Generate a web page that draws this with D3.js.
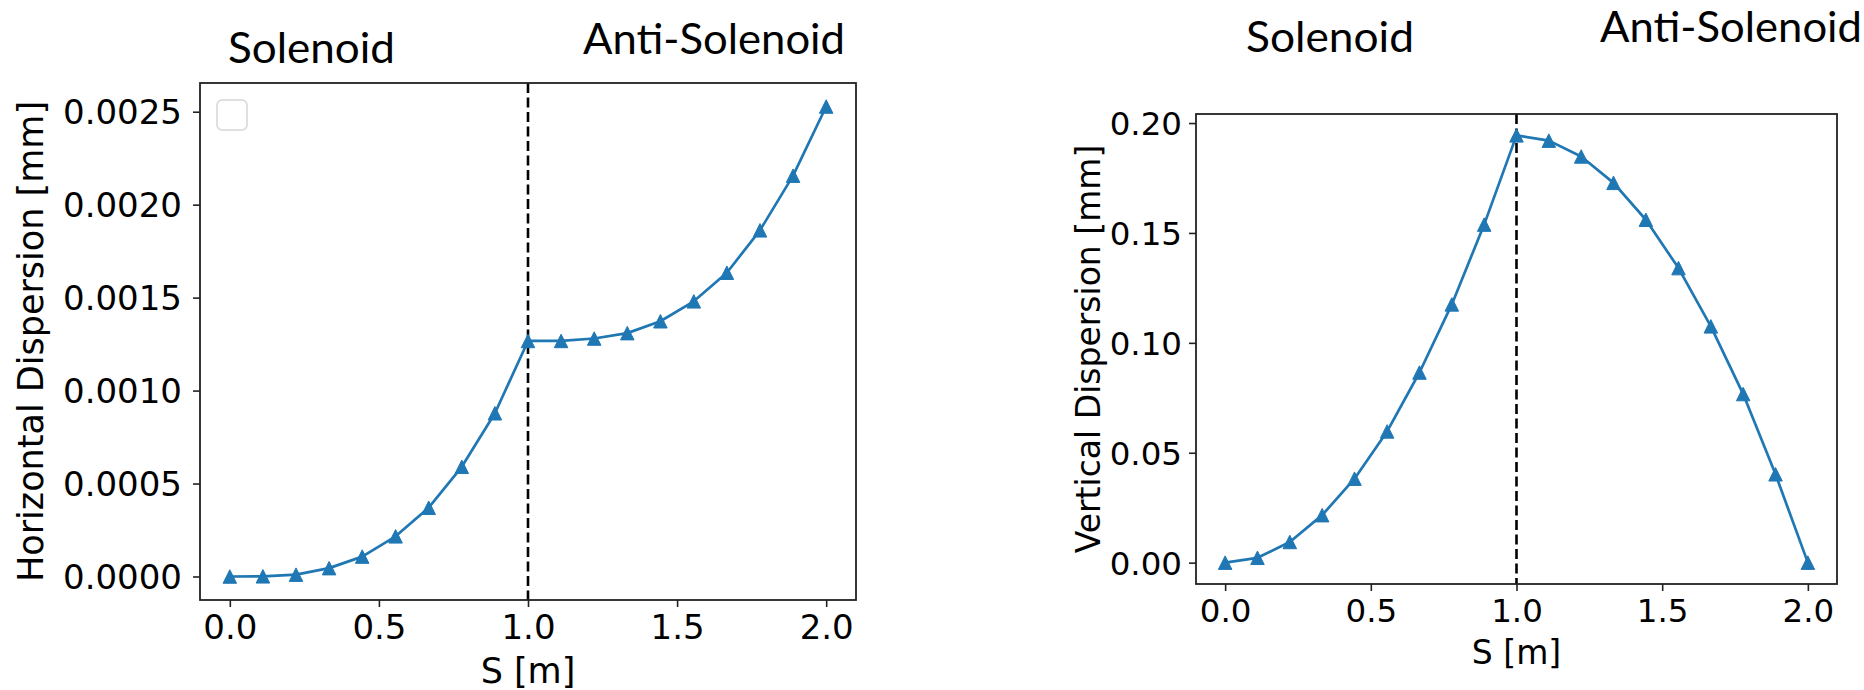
<!DOCTYPE html>
<html>
<head>
<meta charset="utf-8">
<script src="https://cdn.jsdelivr.net/npm/d3@7"></script>
<style>
  html, body { margin: 0; padding: 0; background: #fff; }
  svg { display: block; }
</style>
</head>
<body>
<svg id="chart" width="1864" height="690"></svg>
<script>
// ---------------- DATA ----------------
const sPositions = [0.0, 0.111, 0.222, 0.333, 0.444, 0.556, 0.667, 0.778, 0.889, 1.0,
                    1.111, 1.222, 1.333, 1.444, 1.556, 1.667, 1.778, 1.889, 2.0];
const horizontalDispersion = [0.0, 0.000001, 0.00001, 0.000045, 0.000107, 0.000216, 0.00037, 0.00059, 0.000878, 0.001267,
                              0.001267, 0.00128, 0.001309, 0.001373, 0.00148, 0.001634, 0.001862, 0.002156, 0.002528];
const verticalDispersion = [0.0, 0.0022, 0.0094, 0.0216, 0.0382, 0.0597, 0.0865, 0.1175, 0.1538, 0.1944,
                            0.192, 0.1848, 0.1728, 0.156, 0.134, 0.1075, 0.0767, 0.0402, 0.0];
const xTickValues = [0.0, 0.5, 1.0, 1.5, 2.0];
const horizontalTicks = [0.0, 0.0005, 0.0010, 0.0015, 0.0020, 0.0025];
const verticalTicks = [0.00, 0.05, 0.10, 0.15, 0.20];
const regionLabels = ["Solenoid", "Anti-Solenoid"];
const boundaryS = [1.0];
const xLabel = "S [m]";
const yLabels = ["Horizontal Dispersion [mm]", "Vertical Dispersion [mm]"];

// ---------------- LAYOUT ----------------
const svg = d3.select("#chart");
const C0 = "#1f77b4";

const panels = [
  { left: 200, right: 856, top: 83, bottom: 600, y: horizontalDispersion, ticks: horizontalTicks,
    fmt: d3.format(".4f"), ylabel: yLabels[0], font: 34, labFont: 35,
    ylabX: 43, tickLabGap: 18, xTickBase: 39, xLabBase: 83, legend: true,
    titles: [{ x: 228, y: 63, w: 167 }, { x: 583, y: 54, w: 262 }] },
  { left: 1196, right: 1837, top: 114, bottom: 584, y: verticalDispersion, ticks: verticalTicks,
    fmt: d3.format(".2f"), ylabel: yLabels[1], font: 32.5, labFont: 33,
    ylabX: 1100, tickLabGap: 14, xTickBase: 38, xLabBase: 80, legend: false,
    titles: [{ x: 1246, y: 52, w: 168 }, { x: 1600, y: 42, w: 262 }] }
];

const triangle = {
  draw(ctx, size) {
    const r = Math.sqrt(size) / 2;
    ctx.moveTo(0, -r);
    ctx.lineTo(r, r);
    ctx.lineTo(-r, r);
    ctx.closePath();
  }
};

function padded(ext) {
  const m = (ext[1] - ext[0]) * 0.05;
  return [ext[0] - m, ext[1] + m];
}

panels.forEach(p => {
  const g = svg.append("g");
  const x = d3.scaleLinear().domain(padded(d3.extent(sPositions))).range([p.left, p.right]);
  const y = d3.scaleLinear().domain(padded(d3.extent(p.y))).range([p.bottom, p.top]);

  // dashed boundary line
  g.selectAll("line.boundary").data(boundaryS).join("line")
    .attr("class", "boundary")
    .attr("x1", d => x(d)).attr("x2", d => x(d))
    .attr("y1", p.top).attr("y2", p.bottom)
    .attr("stroke", "#000").attr("stroke-width", 2.6)
    .attr("stroke-dasharray", "10,4.5");

  // series line
  const pts = sPositions.map((s, i) => [s, p.y[i]]);
  g.append("path")
    .datum(pts)
    .attr("fill", "none")
    .attr("stroke", C0)
    .attr("stroke-width", 2.7)
    .attr("stroke-linejoin", "round")
    .attr("d", d3.line().x(d => x(d[0])).y(d => y(d[1])));

  // markers
  g.selectAll("path.marker").data(pts).join("path")
    .attr("class", "marker")
    .attr("transform", d => `translate(${x(d[0])},${y(d[1])})`)
    .attr("d", d3.symbol(triangle, 13.5 * 13.5)())
    .attr("fill", C0)
    .attr("stroke", C0)
    .attr("stroke-width", 1);

  // axes
  const xAxis = d3.axisBottom(x).tickValues(xTickValues).tickFormat(d3.format(".1f"))
    .tickSize(7).tickPadding(p.xTickBase - 7 - p.font * 0.76);
  const gx = g.append("g").attr("transform", `translate(0,${p.bottom})`).call(xAxis);
  const yAxis = d3.axisLeft(y).tickValues(p.ticks).tickFormat(p.fmt)
    .tickSize(7).tickPadding(p.tickLabGap - 7);
  const gy = g.append("g").attr("transform", `translate(${p.left},0)`).call(yAxis);

  [gx, gy].forEach(ax => {
    ax.select(".domain").remove();
    ax.selectAll(".tick line").attr("stroke", "#222").attr("stroke-width", 1.6);
    ax.selectAll(".tick text")
      .attr("fill", "#000")
      .style("font-family", "'DejaVu Sans', sans-serif")
      .style("font-size", p.font + "px");
  });
  gx.selectAll(".tick text").attr("dy", "0.76em");
  gy.selectAll(".tick text").attr("dy", "0.36em");

  // frame
  g.append("rect")
    .attr("x", p.left).attr("y", p.top)
    .attr("width", p.right - p.left).attr("height", p.bottom - p.top)
    .attr("fill", "none").attr("stroke", "#222").attr("stroke-width", 1.8);

  // axis labels
  g.append("text")
    .attr("x", (p.left + p.right) / 2)
    .attr("y", p.bottom + p.xLabBase)
    .attr("text-anchor", "middle")
    .style("font-family", "'DejaVu Sans', sans-serif")
    .style("font-size", p.labFont + "px")
    .attr("fill", "#000")
    .text(xLabel);

  g.append("text")
    .attr("transform", `translate(${p.ylabX},${(p.top + p.bottom) / 2}) rotate(-90)`)
    .attr("text-anchor", "middle")
    .style("font-family", "'DejaVu Sans', sans-serif")
    .style("font-size", p.labFont + "px")
    .attr("fill", "#000")
    .text(p.ylabel);

  // empty legend box
  if (p.legend) {
    g.append("rect")
      .attr("x", p.left + 17).attr("y", p.top + 17)
      .attr("width", 30).attr("height", 30)
      .attr("rx", 5).attr("ry", 5)
      .attr("fill", "#fff")
      .attr("stroke", "#d6d6d6").attr("stroke-width", 1.5);
  }

  // region titles
  p.titles.forEach((t, i) => {
    svg.append("text")
      .attr("x", t.x).attr("y", t.y)
      .attr("textLength", t.w)
      .attr("lengthAdjust", "spacingAndGlyphs")
      .style("font-family", "Lato, 'Open Sans', sans-serif")
      .style("font-size", "43px")
      .attr("fill", "#000")
      .text(regionLabels[i]);
  });
});
</script>
</body>
</html>
